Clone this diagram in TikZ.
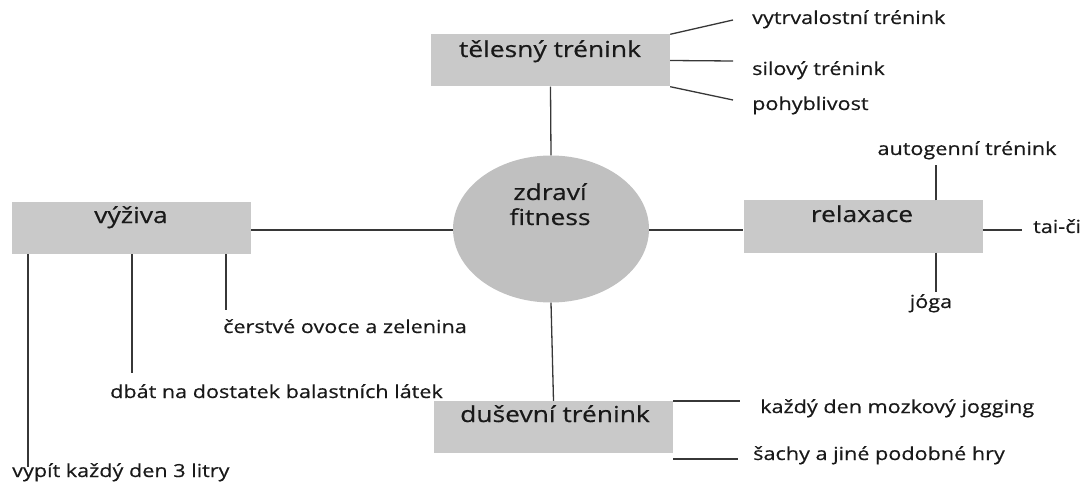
\documentclass[tikz,border=0pt]{standalone}
\usepackage{fontspec}
\setmainfont[FakeStretch=1.2, FakeBold=0.5]{Open Sans}
\usetikzlibrary{shapes.geometric}
\definecolor{boxgray}{RGB}{201,201,201}
\definecolor{hubgray}{RGB}{192,192,192}
\definecolor{linegray}{RGB}{55,55,55}
\definecolor{inkgray}{RGB}{25,25,25}
\tikzset{
  topic/.style={rectangle, fill=boxgray, draw=none, minimum width=239pt, minimum height=52pt, inner sep=0pt},
  hub/.style={ellipse, fill=hubgray, draw=none, minimum width=196pt, minimum height=147pt, inner sep=0pt},
  bigtext/.style={inner sep=0pt, text=inkgray, font=\fontsize{22}{26}\selectfont},
  leaf/.style={inner sep=0pt, text=inkgray, font=\fontsize{18}{21}\selectfont},
  link/.style={draw=linegray, line width=1.3pt}
}
\begin{document}
\begin{tikzpicture}[x=1pt, y=-1pt]
\useasboundingbox (0,0) rectangle (1088,484);

% central hub
\node[hub] (hub) at (551,229) {};
\node[bigtext, anchor=base] (hubA) at (550,200) {zdraví};
\node[bigtext, anchor=base] (hubB) at (550,225) {fitness};

% topic boxes
\node[topic] (tel) at (550.5,60.5) {};
\node[bigtext, anchor=base] (telT) at (550,57) {tělesný trénink};
\node[topic] (vyz) at (131.5,228) {};
\node[bigtext, anchor=base] (vyzT) at (131,223) {výživa};
\node[topic] (rel) at (863,226.5) {};
\node[bigtext, anchor=base] (relT) at (862,222) {relaxace};
\node[topic] (dus) at (553.5,427) {};
\node[bigtext, anchor=base] (dusT) at (555,422) {duševní trénink};

% hub connections
\draw[link] (tel.south) -- (hub.north);
\draw[link] (dus.north) -- (hub.south);
\draw[link] (vyz.east |- 0,230) -- (hub.west |- 0,230);
\draw[link] (hub.east |- 0,230) -- (rel.west |- 0,230);

% tělesný trénink branches
\node[leaf, anchor=base west] (t1) at (752,24) {vytrvalostní trénink};
\node[leaf, anchor=base west] (t2) at (752,75) {silový trénink};
\node[leaf, anchor=base west] (t3) at (752,110) {pohyblivost};
\coordinate (t1e) at (733,20);
\coordinate (t2e) at (733,61);
\coordinate (t3e) at (733,100);
\draw[link] (tel.north east) -- (t1e);
\draw[link] (tel.east) -- (t2e);
\draw[link] (tel.south east) -- (t3e);

% výživa branches
\node[leaf, anchor=base west] (v1) at (223,333) {čerstvé ovoce a zelenina};
\node[leaf, anchor=base west] (v2) at (110,398) {dbát na dostatek balastních látek};
\node[leaf, anchor=base west] (v3) at (12,477) {vypít každý den 3 litry};
\coordinate (v1e) at (226,310);
\coordinate (v2e) at (132,373);
\coordinate (v3e) at (28,467);
\draw[link] (vyz.south -| v1e) -- (v1e);
\draw[link] (vyz.south -| v2e) -- (v2e);
\draw[link] (vyz.south -| v3e) -- (v3e);

% relaxace branches
\node[leaf, anchor=base] (r1) at (967,155) {autogenní trénink};
\node[leaf, anchor=base west] (r2) at (1033,233) {tai-či};
\node[leaf, anchor=base] (r3) at (931,308) {jóga};
\coordinate (r1e) at (936,165);
\coordinate (r2e) at (1022,230);
\coordinate (r3e) at (936,292);
\draw[link] (rel.north -| r1e) -- (r1e);
\draw[link] (rel.east |- r2e) -- (r2e);
\draw[link] (rel.south -| r3e) -- (r3e);

% duševní trénink branches
\node[leaf, anchor=base west] (d1) at (760,413) {každý den mozkový jogging};
\node[leaf, anchor=base west] (d2) at (753,460) {šachy a jiné podobné hry};
\coordinate (d1e) at (740,401);
\coordinate (d2e) at (738,459);
\draw[link] (dus.north east |- d1e) -- (d1e);
\draw[link] (dus.east |- d2e) -- (d2e);
\end{tikzpicture}
\end{document}
